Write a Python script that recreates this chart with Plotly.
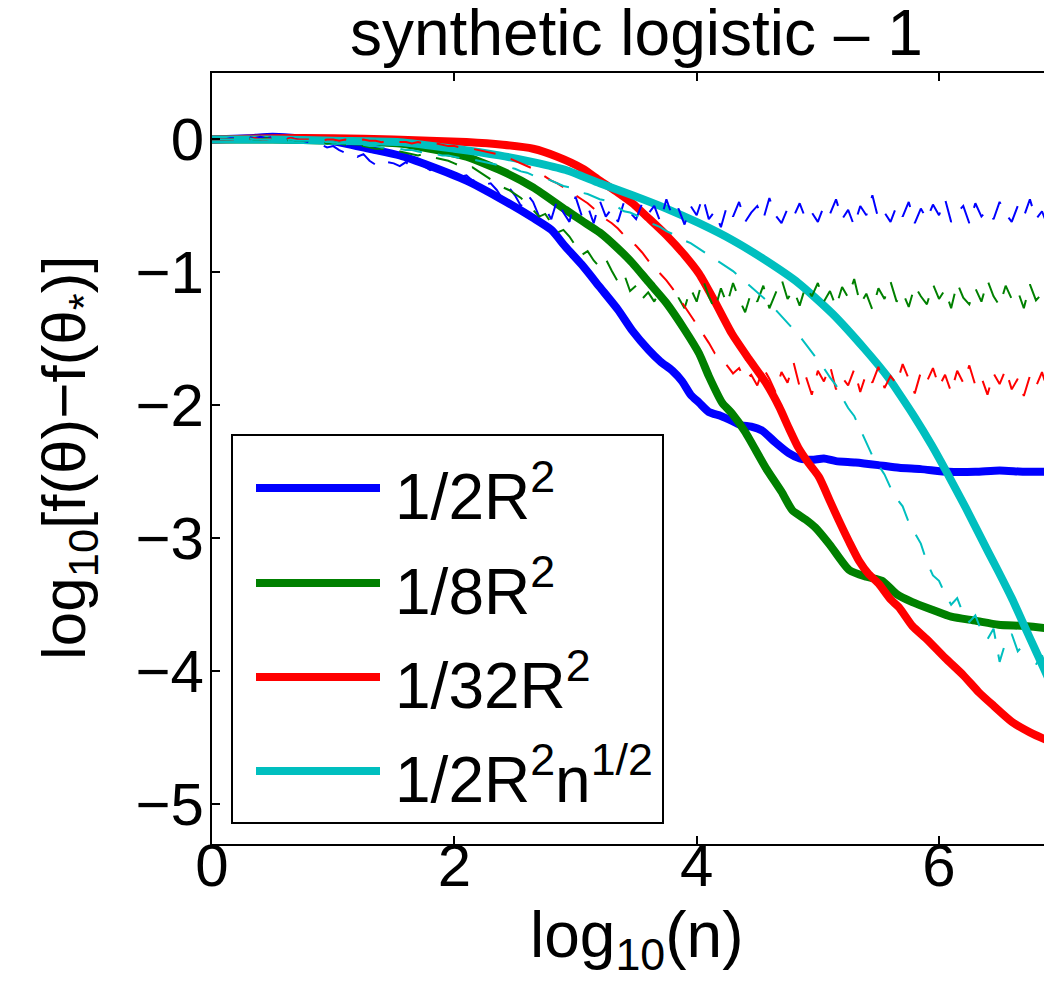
import plotly.graph_objects as go

# ---------------- data ----------------
# thick lines (averaged runs): (log10 n, log10 excess risk)
blue_x = [0.0, 0.3, 0.5, 0.7, 0.9, 1.1, 1.3, 1.55, 1.8, 2.1, 2.37, 2.65, 2.8, 2.92, 3.05, 3.2, 3.35, 3.47, 3.6, 3.7,
          3.8, 3.88, 3.95, 4.02, 4.1, 4.2, 4.3, 4.37, 4.45, 4.54, 4.65, 4.76, 4.85, 4.95, 5.05, 5.15, 5.31, 5.5, 5.67,
          5.85, 6.08, 6.3, 6.5, 6.7, 6.92, 7.0]
blue_y = [0.0, 0.01, 0.02, 0.01, 0.0, -0.03, -0.07, -0.12, -0.2, -0.31, -0.44, -0.59, -0.68, -0.81, -0.94, -1.11, -1.28,
          -1.44, -1.58, -1.67, -1.74, -1.82, -1.92, -1.98, -2.05, -2.08, -2.12, -2.15, -2.16, -2.19, -2.28, -2.36, -2.40,
          -2.41, -2.40, -2.42, -2.43, -2.45, -2.47, -2.48, -2.50, -2.50, -2.49, -2.50, -2.50, -2.50]

green_x = [0.0, 0.5, 1.0, 1.55, 1.8, 2.1, 2.4, 2.65, 2.92, 3.05, 3.2, 3.35, 3.47, 3.6, 3.75, 3.9, 4.02, 4.1, 4.21, 4.29,
           4.4, 4.57, 4.7, 4.79, 4.9, 4.98, 5.1, 5.26, 5.4, 5.53, 5.65, 5.78, 5.95, 6.1, 6.3, 6.49, 6.7, 6.92, 7.0]
green_y = [0.0, 0.0, -0.01, -0.03, -0.07, -0.13, -0.24, -0.36, -0.53, -0.61, -0.70, -0.82, -0.93, -1.07, -1.23, -1.43,
           -1.61, -1.78, -1.98, -2.06, -2.2, -2.47, -2.65, -2.79, -2.86, -2.92, -3.05, -3.24, -3.29, -3.32, -3.42, -3.48,
           -3.54, -3.59, -3.62, -3.65, -3.66, -3.68, -3.69]

red_x = [0.0, 0.5, 1.0, 1.5, 2.1, 2.4, 2.65, 2.85, 3.06, 3.2, 3.35, 3.47, 3.6, 3.75, 3.9, 4.02, 4.15, 4.29, 4.43, 4.57,
         4.68, 4.76, 4.84, 4.92, 5.01, 5.1, 5.17, 5.26, 5.34, 5.42, 5.5, 5.6, 5.67, 5.78, 5.9, 6.05, 6.2, 6.33, 6.45, 6.6,
         6.75, 6.92, 7.0]
red_y = [0.0, 0.01, 0.01, 0.0, -0.02, -0.04, -0.07, -0.13, -0.22, -0.31, -0.4, -0.48, -0.59, -0.72, -0.87, -1.01, -1.22,
         -1.46, -1.65, -1.83, -2.01, -2.17, -2.32, -2.43, -2.54, -2.72, -2.86, -3.03, -3.17, -3.27, -3.34, -3.46, -3.52,
         -3.66, -3.76, -3.9, -4.03, -4.16, -4.26, -4.38, -4.46, -4.53, -4.56]

cyan_x = [0.0, 0.5, 1.0, 1.55, 2.0, 2.37, 2.65, 2.92, 3.2, 3.47, 3.75, 4.02, 4.3, 4.57, 4.84, 5.12, 5.39, 5.58, 5.67, 5.8,
          5.94, 6.05, 6.22, 6.41, 6.49, 6.6, 6.71, 6.8, 6.92, 7.0]
cyan_y = [0.0, 0.0, -0.01, -0.02, -0.07, -0.12, -0.17, -0.23, -0.33, -0.42, -0.52, -0.63, -0.76, -0.91, -1.08, -1.31,
          -1.58, -1.79, -1.91, -2.09, -2.30, -2.48, -2.77, -3.11, -3.25, -3.45, -3.67, -3.85, -4.09, -4.25]

# thin dashed lines (single runs), sampled every 0.05 in log10(n) from 0 to 7
run_x = [i / 20 for i in range(141)]
blue_run = [0, 0, 0, 0.01, 0.01, 0.02, 0.02, 0.01, 0.02, 0.01, 0.02, 0.01, 0.0, 0.01, 0.0, -0.01,
            -0.02, -0.03, -0.04, -0.06, -0.05, -0.08, -0.1, -0.09, -0.13, -0.11, -0.16, -0.19, -0.15, -0.17,
            -0.18, -0.2, -0.17, -0.21, -0.19, -0.2, -0.23, -0.21, -0.25, -0.24,
            -0.26, -0.28, -0.27, -0.31, -0.3, -0.34, -0.33, -0.38, -0.45, -0.36,
            -0.42, -0.5, -0.41, -0.47, -0.58, -0.52, -0.6, -0.45, -0.55, -0.62,
            -0.43, -0.57, -0.5, -0.63, -0.46, -0.58, -0.52, -0.62, -0.47, -0.55,
            -0.6, -0.48, -0.56, -0.5, -0.62, -0.45, -0.58, -0.52, -0.64, -0.5,
            -0.57, -0.43, -0.6, -0.54, -0.66, -0.5, -0.58, -0.47, -0.62, -0.55,
            -0.5, -0.6, -0.44, -0.57, -0.63, -0.52, -0.58, -0.48, -0.6, -0.55,
            -0.62, -0.5, -0.56, -0.45, -0.6, -0.53, -0.65, -0.5, -0.57, -0.42,
            -0.6, -0.55, -0.62, -0.5, -0.58, -0.47, -0.63, -0.52, -0.6, -0.49,
            -0.57, -0.45, -0.62, -0.55, -0.5, -0.63, -0.48, -0.58, -0.53, -0.6,
            -0.47, -0.56, -0.62, -0.5, -0.58, -0.45, -0.6, -0.54, -0.66, -0.55,
            -0.58]
green_run = [0, 0, 0, 0, 0.01, 0, 0.01, 0, 0, 0.01, 0, 0, -0.01, 0, -0.01, -0.01,
             -0.01, -0.02, -0.02, -0.03, -0.02, -0.03, -0.04, -0.04, -0.05, -0.05, -0.06, -0.07, -0.07, -0.08,
             -0.09, -0.09, -0.1, -0.11, -0.12, -0.11, -0.13, -0.14, -0.15, -0.16,
             -0.18, -0.2, -0.22, -0.21, -0.24, -0.27, -0.3, -0.33, -0.36, -0.38,
             -0.41, -0.44, -0.49, -0.53, -0.58, -0.56, -0.63, -0.7, -0.68, -0.73,
             -0.8, -0.87, -0.84, -0.91, -0.96, -0.9, -0.99, -1.07, -1.01, -1.14,
             -1.1, -1.2, -1.15, -1.22, -1.13, -1.25, -1.31, -1.19, -1.27, -1.12,
             -1.22, -1.05, -1.18, -1.28, -1.12, -1.24, -1.08, -1.2, -1.3, -1.15,
             -1.22, -1.1, -1.27, -1.16, -1.05, -1.2, -1.13, -1.25, -1.1, -1.18,
             -1.08, -1.22, -1.14, -1.26, -1.11, -1.19, -1.05, -1.24, -1.16, -1.28,
             -1.12, -1.2, -1.07, -1.22, -1.15, -1.26, -1.1, -1.18, -1.24, -1.09,
             -1.2, -1.13, -1.27, -1.08, -1.19, -1.24, -1.12, -1.22, -1.06, -1.18,
             -1.25, -1.1, -1.2, -1.14, -1.27, -1.09, -1.21, -1.16, -1.26, -1.17,
             -1.22]
red_run = [0, 0, 0, 0, 0, 0.01, 0, 0.01, 0, 0, 0.01, 0, 0, 0.01, 0, 0,
           0, 0, -0.01, 0, 0, -0.01, 0, -0.01, -0.01, 0, -0.01, -0.01, -0.02, -0.01,
           -0.02, -0.02, -0.02, -0.03, -0.02, -0.03, -0.04, -0.03, -0.04, -0.05,
           -0.05, -0.06, -0.06, -0.07, -0.08, -0.09, -0.1, -0.11, -0.12, -0.14,
           -0.16, -0.18, -0.2, -0.22, -0.25, -0.28, -0.31, -0.33, -0.36, -0.38,
           -0.42, -0.45, -0.48, -0.52, -0.56, -0.6, -0.63, -0.67, -0.72, -0.76,
           -0.8, -0.85, -0.91, -0.97, -1.01, -1.06, -1.12, -1.19, -1.26, -1.33,
           -1.39, -1.46, -1.53, -1.61, -1.65, -1.7, -1.76, -1.72, -1.81, -1.77,
           -1.85, -1.72, -1.8, -1.9, -1.75, -1.83, -1.68, -1.86, -1.78, -1.92,
           -1.74, -1.82, -1.7, -1.88, -1.79, -1.85, -1.73, -1.9, -1.76, -1.83,
           -1.71, -1.87, -1.78, -1.84, -1.69, -1.8, -1.91, -1.75, -1.82, -1.72,
           -1.86, -1.77, -1.9, -1.74, -1.83, -1.7, -1.85, -1.79, -1.92, -1.76,
           -1.84, -1.73, -1.88, -1.8, -1.93, -1.78, -1.86, -1.75, -1.9, -1.83,
           -1.87]
cyan_run = [0, 0, 0, 0, 0, 0, 0.01, 0, 0, 0, 0, 0, -0.01, 0, -0.01, -0.01,
            -0.01, -0.01, -0.02, -0.02, -0.02, -0.03, -0.03, -0.03, -0.04, -0.04, -0.05, -0.05, -0.06, -0.06,
            -0.07, -0.07, -0.08, -0.08, -0.09, -0.1, -0.1, -0.11, -0.12, -0.12,
            -0.13, -0.14, -0.14, -0.15, -0.16, -0.17, -0.18, -0.19, -0.2, -0.21,
            -0.22, -0.24, -0.25, -0.27, -0.28, -0.29, -0.31, -0.33, -0.35, -0.36,
            -0.38, -0.4, -0.41, -0.43, -0.45, -0.46, -0.48, -0.51, -0.54, -0.55,
            -0.57, -0.6, -0.62, -0.64, -0.66, -0.69, -0.71, -0.74, -0.76, -0.78,
            -0.81, -0.84, -0.87, -0.9, -0.93, -0.96, -0.99, -1.03, -1.07, -1.11,
            -1.15, -1.19, -1.23, -1.28, -1.33, -1.38, -1.43, -1.48, -1.54, -1.6,
            -1.66, -1.72, -1.79, -1.85, -1.94, -2.02, -2.08, -2.18, -2.27, -2.38,
            -2.45, -2.52, -2.62, -2.7, -2.76, -2.88, -2.96, -3.04, -3.18, -3.28,
            -3.32, -3.42, -3.5, -3.45, -3.57, -3.63, -3.58, -3.7, -3.76, -3.68,
            -3.93, -3.78, -3.72, -3.85, -3.8, -3.7, -3.95, -3.88, -4.02, -3.92,
            -3.98]

series_names = ["1/2R<sup>2</sup>", "1/8R<sup>2</sup>", "1/32R<sup>2</sup>", "1/2R<sup>2</sup>n<sup>1/2</sup>"]
colors = ["#0000FF", "#008000", "#FF0000", "#00BFBF"]
x_ticks = [0, 2, 4, 6]
y_ticks = [-5, -4, -3, -2, -1, 0]

FONT = "Liberation Sans, Arial, Helvetica, sans-serif"

fig = go.Figure()
thick = [(blue_x, blue_y), (green_x, green_y), (red_x, red_y), (cyan_x, cyan_y)]
for (xs, ys), c, n in zip(thick, colors, series_names):
    fig.add_trace(go.Scatter(x=xs, y=ys, mode="lines", name=n, line=dict(color=c, width=8, shape="spline",
                                                                          smoothing=0.6), showlegend=False))
runs = [blue_run, green_run, red_run, cyan_run]
for ys, c, n in zip(runs, colors, series_names):
    fig.add_trace(go.Scatter(x=run_x, y=ys, mode="lines", name=n + " (single run)",
                             line=dict(color=c, width=2, dash="22px,16px"), showlegend=False))

# The page body has an 8px margin, so the figure is drawn 8px right/down of the window corner.
OFF = 8
FIG_W, FIG_H = 1052 - OFF, 997 - OFF
# plot-area geometry in window pixels
L, T, R, B = 212, 73, 1052, 844
W, H = R - L, B - T
X_MAX = (R - L) / 121.17


def px(xp):
    return (xp - L) / W


def py(yp):
    return (B - yp) / H


# manual legend (MATLAB style)
shapes = [dict(type="rect", xref="paper", yref="paper", x0=px(232), x1=px(663), y0=py(823), y1=py(435),
               line=dict(color="black", width=2), fillcolor="white", layer="above")]
annotations = []
legend_rows = [488, 583, 677, 771]
for yrow, c, n in zip(legend_rows, colors, series_names):
    shapes.append(dict(type="line", xref="paper", yref="paper", x0=px(256), x1=px(380), y0=py(yrow), y1=py(yrow),
                       line=dict(color=c, width=8), layer="above"))
    annotations.append(dict(text=n, xref="paper", yref="paper", x=px(393), y=py(yrow + 4), xanchor="left",
                            yanchor="middle", showarrow=False, font=dict(family=FONT, size=64, color="black")))

annotations.append(dict(text="synthetic logistic \u2013 1", xref="x", yref="paper", x=3.5, y=py(71),
                        xanchor="center", yanchor="bottom", showarrow=False,
                        font=dict(family=FONT, size=64, color="black")))
annotations.append(dict(text="log<sub>10</sub>(n)", xref="x", yref="paper", x=3.5, y=py(897),
                        xanchor="center", yanchor="top", showarrow=False,
                        font=dict(family=FONT, size=64, color="black")))
annotations.append(dict(text="log<sub>10</sub>[f(\u03b8)\u2212f(\u03b8<sub>*</sub>)]", xref="paper", yref="paper",
                        x=px(68), y=py(458), xanchor="center", yanchor="middle", textangle=-90, showarrow=False,
                        font=dict(family=FONT, size=62, color="black")))

fig.update_layout(
    width=FIG_W, height=FIG_H,
    margin=dict(l=L - OFF, r=1052 - R, t=T - OFF, b=997 - B, pad=0),
    paper_bgcolor="white", plot_bgcolor="white",
    showlegend=False,
    shapes=shapes, annotations=annotations,
    font=dict(family=FONT, size=60, color="black"),
)
fig.update_xaxes(range=[0, X_MAX], tickvals=x_ticks, ticks="inside", ticklen=8, tickwidth=1.5, tickcolor="black",
                 showline=True, linecolor="black", linewidth=2, mirror="ticks", showgrid=False, zeroline=False,
                 ticklabelstandoff=-32, tickfont=dict(family=FONT, size=60, color="black"))
fig.update_yaxes(range=[-5.3, 0.5], tickvals=y_ticks, ticks="inside", ticklen=8, tickwidth=1.5, tickcolor="black",
                 showline=True, linecolor="black", linewidth=2, mirror=False, showgrid=False, zeroline=False,
                 ticklabelstandoff=-6, tickfont=dict(family=FONT, size=60, color="black"))

fig.write_html("out.html")
